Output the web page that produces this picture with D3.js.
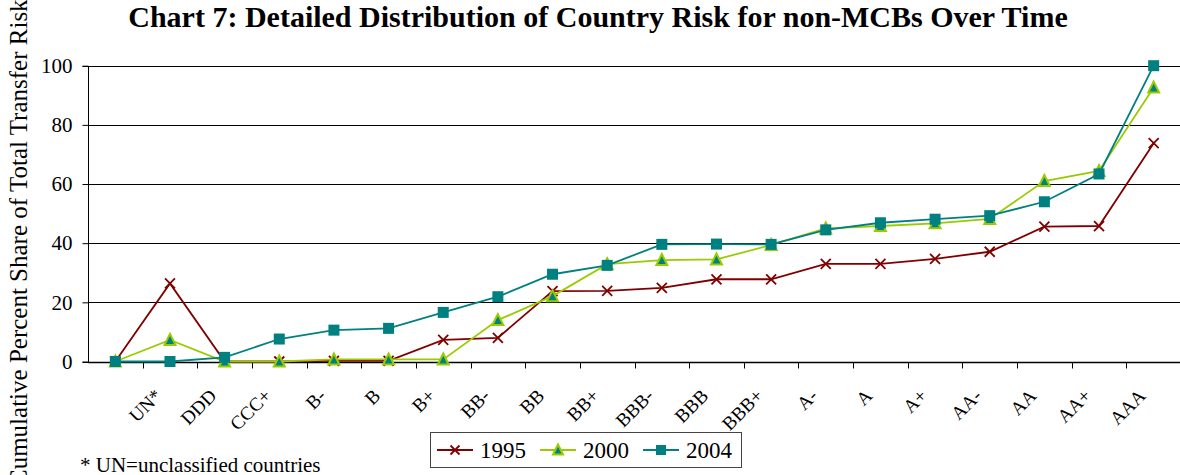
<!DOCTYPE html>
<html>
<head>
<meta charset="utf-8">
<script src="https://cdn.jsdelivr.net/npm/d3@7"></script>
<style>
  html, body { margin: 0; padding: 0; background: #fff; }
  svg { display: block; }
  text { font-family: "Liberation Serif", "Times New Roman", serif; fill: #000; }
</style>
</head>
<body>
<svg id="chart" width="1180" height="475"></svg>
<script>
// Rating buckets (the first bucket is the unlabeled starting point)
const categories = ["", "UN*", "DDD", "CCC+", "B-", "B", "B+", "BB-", "BB", "BB+",
  "BBB-", "BBB", "BBB+", "A-", "A", "A+", "AA-", "AA", "AA+", "AAA"];

// Cumulative percent share of total transfer risk, by year
const values1995 = [0, 26.4, 0, 0, 0.2, 0.2, 7.3, 8.0, 23.8, 23.9,
  24.9, 27.8, 27.8, 33.0, 33.0, 34.7, 37.1, 45.6, 45.8, 73.8];
const values2000 = [0, 7.3, 0, 0, 0.7, 0.7, 0.7, 14.0, 22.1, 32.9,
  34.3, 34.5, 39.4, 45.0, 45.8, 46.7, 48.2, 61.0, 64.4, 92.6];
const values2004 = [0, 0, 1.4, 7.6, 10.6, 11.2, 16.6, 21.9, 29.5, 32.5,
  39.6, 39.7, 39.6, 44.5, 46.9, 48.1, 49.3, 54.0, 63.4, 100];

const yTicks = [0, 20, 40, 60, 80, 100];

const series = [
  { name: "1995", values: values1995, color: "#800000", marker: "x" },
  { name: "2000", values: values2000, color: "#99cc00", marker: "triangle" },
  { name: "2004", values: values2004, color: "#008080", marker: "square" }
];

const svg = d3.select("#chart");
const plotLeft = 88, plotRight = 1181, plotTop = 65.7, plotBottom = 361.5;

const x = d3.scaleBand().domain(d3.range(categories.length)).range([plotLeft, plotRight]);
const y = d3.scaleLinear().domain([0, 100]).range([plotBottom, plotTop]);
const cx = i => x(i) + x.bandwidth() / 2;

// Title
svg.append("text")
  .attr("x", 598).attr("y", 27)
  .attr("text-anchor", "middle")
  .attr("font-size", 30).attr("font-weight", "bold")
  .text("Chart 7: Detailed Distribution of Country Risk for non-MCBs Over Time");

// Horizontal gridlines
svg.append("g")
  .selectAll("line")
  .data(yTicks)
  .join("line")
  .attr("x1", plotLeft).attr("x2", 1180)
  .attr("y1", d => Math.round(y(d)) + 0.5).attr("y2", d => Math.round(y(d)) + 0.5)
  .attr("stroke", "#000").attr("stroke-width", 1);

// Y axis
const yAxis = svg.append("g")
  .attr("transform", `translate(${plotLeft + 0.5},0)`)
  .call(d3.axisLeft(y).tickValues(yTicks).tickSize(6).tickPadding(10));
yAxis.select(".domain").attr("stroke", "#000")
  .attr("d", `M-6,${Math.round(plotTop) + 0.5}H0V${Math.round(plotBottom) + 0.5}H-6`);
yAxis.selectAll(".tick line").attr("stroke", "#000");
yAxis.selectAll(".tick text")
  .attr("font-size", 21)
  .attr("font-family", "Liberation Serif, Times New Roman, serif")
  .attr("fill", "#000");

// X axis: ticks on band boundaries, labels rotated
const xAxisY = Math.round(plotBottom) + 0.5;
const xg = svg.append("g");
xg.append("line")
  .attr("x1", plotLeft).attr("x2", 1180)
  .attr("y1", xAxisY).attr("y2", xAxisY)
  .attr("stroke", "#000").attr("stroke-width", 1.5);
xg.selectAll("line.tick")
  .data(d3.range(1, categories.length))
  .join("line")
  .attr("class", "tick")
  .attr("x1", i => Math.round(x(i)) + 0.5).attr("x2", i => Math.round(x(i)) + 0.5)
  .attr("y1", xAxisY).attr("y2", xAxisY + 6)
  .attr("stroke", "#000");
xg.selectAll("text")
  .data(categories)
  .join("text")
  .attr("transform", (d, i) => `translate(${cx(i) - 7},${397}) rotate(-45)`)
  .attr("text-anchor", "end")
  .attr("font-size", 19)
  .text(d => d);

// Y axis title (runs past the top and bottom edges of the page)
svg.append("text")
  .attr("transform", "translate(27,486) rotate(-90)")
  .attr("text-anchor", "start")
  .attr("font-size", 25)
  .text("Cumulative Percent Share of Total Transfer Risk");

// Lines and markers
const line = d3.line().x((d, i) => cx(i)).y(d => y(d));

function drawMarker(g, type, color, size) {
  const h = size / 2;
  if (type === "x") {
    g.append("path")
      .attr("d", `M${-h},${-h}L${h},${h}M${-h},${h}L${h},${-h}`)
      .attr("stroke", color).attr("stroke-width", 1.8).attr("fill", "none");
  } else if (type === "triangle") {
    g.append("path")
      .attr("d", `M0,${-h - 1}L${h + 0.5},${h}L${-h - 0.5},${h}Z`)
      .attr("fill", "#008080").attr("stroke", color).attr("stroke-width", 2);
  } else {
    g.append("rect")
      .attr("x", -h).attr("y", -h).attr("width", size).attr("height", size)
      .attr("fill", color);
  }
}

series.forEach(s => {
  svg.append("path")
    .datum(s.values)
    .attr("d", line)
    .attr("fill", "none")
    .attr("stroke", s.color)
    .attr("stroke-width", 1.8);
  svg.append("g")
    .selectAll("g")
    .data(s.values)
    .join("g")
    .attr("transform", (d, i) => `translate(${cx(i)},${y(d)})`)
    .each(function () { drawMarker(d3.select(this), s.marker, s.color, s.marker === "square" ? 11 : 10); });
});

// Legend
const legend = svg.append("g");
legend.append("rect")
  .attr("x", 430.5).attr("y", 432.5).attr("width", 311).attr("height", 35)
  .attr("fill", "#fff").attr("stroke", "#444").attr("stroke-width", 1);
const legX = [437, 540, 643];
series.forEach((s, i) => {
  const g = legend.append("g").attr("transform", `translate(${legX[i]},450)`);
  g.append("line").attr("x1", 0).attr("x2", 36).attr("y1", 0).attr("y2", 0)
    .attr("stroke", s.color).attr("stroke-width", 1.8);
  const m = g.append("g").attr("transform", "translate(18,0)");
  drawMarker(m, s.marker, s.color, s.marker === "square" ? 10 : 9);
  g.append("text").attr("x", 43).attr("y", 8).attr("font-size", 23).text(s.name);
});

// Footnote
svg.append("text")
  .attr("x", 80).attr("y", 471.5)
  .attr("font-size", 21)
  .text("* UN=unclassified countries");
</script>
</body>
</html>
